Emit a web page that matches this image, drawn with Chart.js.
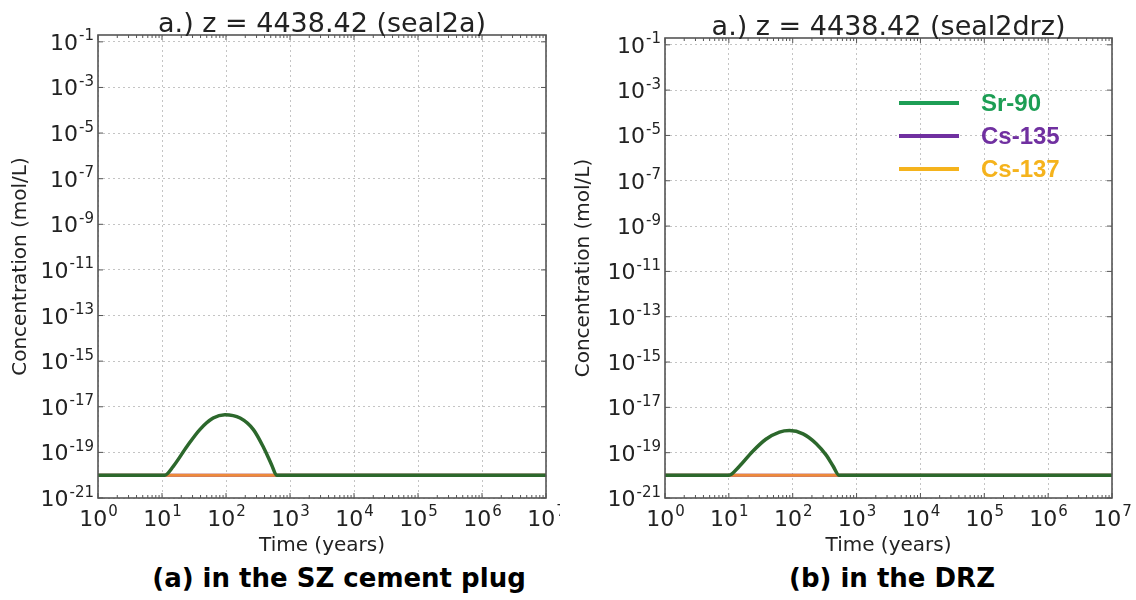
<!DOCTYPE html>
<html>
<head>
<meta charset="utf-8">
<script src="https://cdn.jsdelivr.net/npm/chart.js@4.4.1/dist/chart.umd.min.js"></script>
<style>
  body { margin: 0; background: #fff; width: 1136px; height: 600px; position: relative; overflow: hidden; }
  canvas { position: absolute; top: 0; }
  #chartA { left: 0; }
  #chartB { left: 560px; }
  .caption {
    position: absolute; top: 563px; height: 30px; line-height: 30px; width: 440px;
    text-align: center; font-family: 'DejaVu Sans', sans-serif; font-weight: bold; font-size: 26px; color: #000;
  }
</style>
</head>
<body>
<canvas id="chartA" width="560" height="560"></canvas>
<canvas id="chartB" width="576" height="560"></canvas>
<div class="caption" style="left:119px">(a) in the SZ cement plug</div>
<div class="caption" style="left:672px">(b) in the DRZ</div>
<script>
// values
const seriesNames = ['Sr-90', 'Cs-135', 'Cs-137'];

// (a) seal2a
const timeA = [1, 11, 15, 24.5, 39, 63, 96, 166, 268, 380, 515, 620, 1e7];
const srA = [1e-20, 1e-20, 2.45e-20, 1.8e-19, 1e-18, 3.2e-18, 4.5e-18, 3.2e-18, 1e-18, 1.8e-19, 2.9e-20, 1e-20, 1e-20];
const csTimeA = [1, 1e7];
const cs135A = [1e-20, 1e-20];
const cs137A = [1e-20, 1e-20];

// (b) seal2drz
const timeB = [1, 10, 14.4, 23.3, 38, 62, 89, 145, 234, 337, 428, 535, 1e7];
const srB = [1e-20, 1e-20, 2.4e-20, 1.1e-19, 3.9e-19, 8.1e-19, 9.5e-19, 6.8e-19, 2.5e-19, 7.6e-20, 2.6e-20, 1e-20, 1e-20];
const csTimeB = [1, 1e7];
const cs135B = [1e-20, 1e-20];
const cs137B = [1e-20, 1e-20];

const xTickExps = [0, 1, 2, 3, 4, 5, 6, 7];
const yTickExps = [-1, -3, -5, -7, -9, -11, -13, -15, -17, -19, -21];

const lineColors = ['#2c682c', '#7030a0', '#ee8a3a'];
const legendColors = ['#1d9e55', '#7030a0', '#f5b31c'];

const FONT = '"DejaVu Sans", sans-serif';
const toPoints = (xs, ys) => xs.map((x, i) => ({x: x, y: ys[i]}));

// plot title centred over the plot area
const plotTitle = {
    id: 'plotTitle',
    afterDraw(chart, args, opts) {
        const {ctx, chartArea: a} = chart;
        ctx.save();
        ctx.font = '27px ' + FONT;
        ctx.fillStyle = '#222';
        ctx.textAlign = 'center';
        ctx.textBaseline = 'alphabetic';
        ctx.fillText(opts.text, (a.left + a.right) / 2, a.top - 3.5);
        ctx.restore();
    }
};

// "10" with a raised exponent, as matplotlib draws log tick labels
const powTicks = {
    id: 'powTicks',
    afterDraw(chart) {
        const {ctx, chartArea: a, scales} = chart;
        const big = '22px ' + FONT, small = '15px ' + FONT;
        ctx.save();
        ctx.fillStyle = '#222';
        ctx.textBaseline = 'alphabetic';
        ctx.textAlign = 'left';
        const draw = (e, xRight, xCenter, base) => {
            const ex = String(e);
            ctx.font = big;
            const w1 = ctx.measureText('10').width;
            ctx.font = small;
            const w2 = ctx.measureText(ex).width;
            const x0 = xRight !== null ? xRight - w1 - w2 : xCenter - (w1 + w2) / 2;
            ctx.font = big;
            ctx.fillText('10', x0, base);
            ctx.font = small;
            ctx.fillText(ex, x0 + w1 + 1, base - 9.5);
        };
        xTickExps.forEach(e => {
            draw(e, null, scales.x.getPixelForValue(Math.pow(10, e)), a.bottom + 27.5);
        });
        yTickExps.forEach(e => {
            draw(e, a.left - 5, null, scales.y.getPixelForValue(Math.pow(10, e)) + 8);
        });
        ctx.restore();
    }
};

// box around the plot + inward tick marks
const framePlugin = {
    id: 'frame',
    afterDatasetsDraw(chart) {
        const {ctx, chartArea: a, scales} = chart;
        ctx.save();
        ctx.strokeStyle = '#555';
        ctx.lineWidth = 1;
        ctx.beginPath();
        xTickExps.forEach(e => {
            const px = scales.x.getPixelForValue(Math.pow(10, e));
            ctx.moveTo(px, a.bottom); ctx.lineTo(px, a.bottom - 5);
            ctx.moveTo(px, a.top); ctx.lineTo(px, a.top + 5);
            if (e < 7) {
                for (let m = 2; m < 10; m++) {
                    const pm = scales.x.getPixelForValue(m * Math.pow(10, e));
                    ctx.moveTo(pm, a.bottom); ctx.lineTo(pm, a.bottom - 3);
                    ctx.moveTo(pm, a.top); ctx.lineTo(pm, a.top + 3);
                }
            }
        });
        yTickExps.forEach(e => {
            const py = scales.y.getPixelForValue(Math.pow(10, e));
            ctx.moveTo(a.left, py); ctx.lineTo(a.left + 5, py);
            ctx.moveTo(a.right, py); ctx.lineTo(a.right - 5, py);
        });
        ctx.stroke();
        ctx.lineWidth = 1.6;
        ctx.strokeRect(a.left, a.top, a.right - a.left, a.bottom - a.top);
        ctx.restore();
    }
};

// legend drawn inside the plot area
const insideLegend = {
    id: 'insideLegend',
    afterDraw(chart, args, opts) {
        if (!opts.show) return;
        const ctx = chart.ctx;
        ctx.save();
        ctx.font = 'bold 24px "Liberation Sans", Arial, sans-serif';
        ctx.textBaseline = 'middle';
        chart.data.datasets.forEach((ds, i) => {
            const y = opts.y + i * opts.gap;
            ctx.strokeStyle = ds.legendColor;
            ctx.lineWidth = 4;
            ctx.beginPath();
            ctx.moveTo(opts.x, y);
            ctx.lineTo(opts.x + 60, y);
            ctx.stroke();
            ctx.fillStyle = ds.legendColor;
            ctx.fillText(ds.label, opts.x + 82, y + 1);
        });
        ctx.restore();
    }
};

function makeChart(id, title, times, sr, csTimes, cs135, cs137, lay) {
    const ctx = document.getElementById(id).getContext('2d');
    const ys = [sr, cs135, cs137];
    const xs = [times, csTimes, csTimes];
    return new Chart(ctx, {
        type: 'line',
        data: {
            datasets: seriesNames.map((name, i) => ({
                label: name,
                data: toPoints(xs[i], ys[i]),
                borderColor: lineColors[i],
                legendColor: legendColors[i],
                borderWidth: i === 0 ? 3.5 : 3,
                pointRadius: 0,
                cubicInterpolationMode: 'monotone',
                order: i === 0 ? 0 : (i === 2 ? 1 : 2)
            }))
        },
        options: {
            responsive: false,
            animation: false,
            layout: { padding: { left: 0, right: lay.rightPad, top: lay.top, bottom: 0 } },
            plugins: {
                legend: { display: false },
                tooltip: { enabled: false },
                title: { display: false },
                plotTitle: { text: title },
                insideLegend: lay.legend
            },
            scales: {
                x: {
                    type: 'logarithmic',
                    min: 1,
                    max: 1e7,
                    afterBuildTicks: s => { s.ticks = xTickExps.map(e => ({value: Math.pow(10, e)})); },
                    afterFit: s => { s.height = 62; s.paddingLeft = 0; s.paddingRight = 0; },
                    ticks: { display: false, autoSkip: false, maxRotation: 0 },
                    grid: { color: '#c4c4c4', lineWidth: 1, drawTicks: false },
                    border: { display: false, dash: [2, 3] },
                    title: {
                        display: true,
                        text: 'Time (years)',
                        color: '#222',
                        font: { family: FONT, size: 20, lineHeight: 1.2 },
                        padding: { top: 0, bottom: 2 }
                    }
                },
                y: {
                    type: 'logarithmic',
                    min: 1e-21,
                    max: Math.pow(10, -0.7),
                    afterBuildTicks: s => { s.ticks = yTickExps.map(e => ({value: Math.pow(10, e)})); },
                    afterFit: s => { s.width = lay.yWidth; s.paddingTop = 0; s.paddingBottom = 0; },
                    ticks: { display: false, autoSkip: false },
                    grid: { color: '#c4c4c4', lineWidth: 1, drawTicks: false },
                    border: { display: false, dash: [2, 3] },
                    title: {
                        display: true,
                        text: 'Concentration (mol/L)',
                        color: '#222',
                        font: { family: FONT, size: 20, lineHeight: 1.2 },
                        padding: { top: lay.yTitlePad, bottom: 0 }
                    }
                }
            }
        },
        plugins: [framePlugin, powTicks, plotTitle, insideLegend]
    });
}

makeChart('chartA', 'a.) z = 4438.42 (seal2a)', timeA, srA, csTimeA, cs135A, cs137A,
    { yWidth: 98, rightPad: 14, top: 35, yTitlePad: 9, legend: { show: false } });
makeChart('chartB', 'a.) z = 4438.42 (seal2drz)', timeB, srB, csTimeB, cs135B, cs137B,
    { yWidth: 105, rightPad: 24, top: 38, yTitlePad: 12, legend: { show: true, x: 339, y: 103, gap: 33 } });
</script>
</body>
</html>
